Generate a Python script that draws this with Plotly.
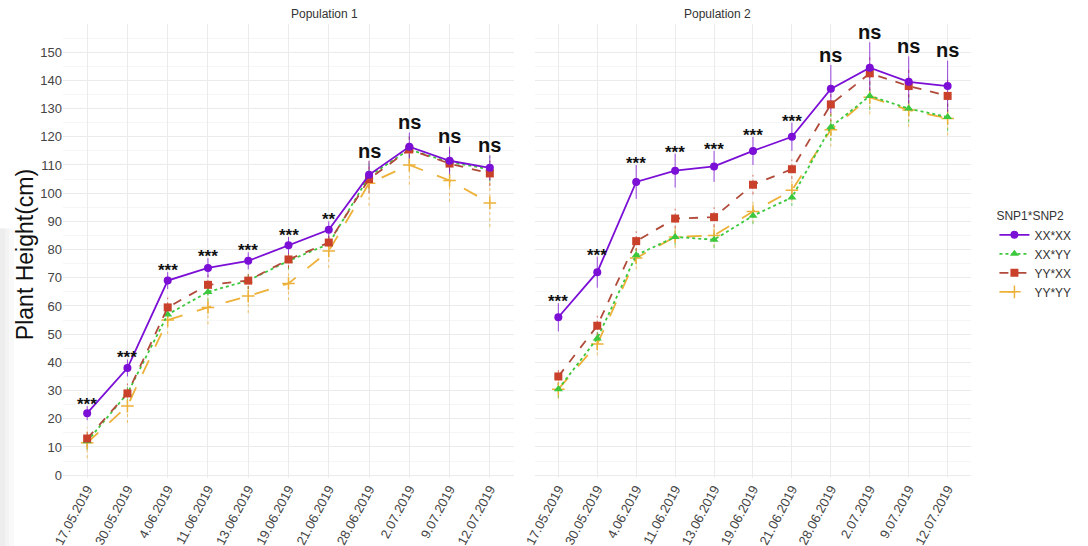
import plotly.graph_objects as go

# Sampling dates (categorical x axis)
dates = ["17.05.2019", "30.05.2019", "4.06.2019", "11.06.2019", "13.06.2019",
         "19.06.2019", "21.06.2019", "28.06.2019", "2.07.2019", "9.07.2019", "12.07.2019"]

genotypes = ["XX*XX", "XX*YY", "YY*XX", "YY*YY"]

# Population 1: mean plant height (cm) and error
pop1_xxxx = [22, 38, 69, 73.5, 76, 81.5, 87, 106.5, 116.5, 111.5, 109]
pop1_xxyy = [12, 29, 57, 65, 69, 76, 82, 106, 115.5, 111, 108.5]
pop1_yyxx = [13, 29, 59.5, 67.5, 69, 76.5, 82.5, 105, 115.5, 110.5, 107]
pop1_yyyy = [11.5, 24.5, 55, 59.5, 63.5, 68, 79.5, 103.5, 110, 104.5, 96.5]

pop1_xxxx_err = [2.5, 3, 3, 3.5, 3, 3, 3, 5, 5, 5, 4.5]
pop1_xxyy_err = [3, 3, 3, 3.5, 3, 3, 3, 5, 5, 5, 4.5]
pop1_yyxx_err = [3, 3.5, 3.5, 3.5, 3, 3, 3, 5, 5, 5, 4.5]
pop1_yyyy_err = [5.5, 6, 5, 6, 6, 6, 6, 8, 7, 7.5, 8.5]

# Population 2: mean plant height (cm) and error
pop2_xxxx = [56, 72, 104, 108, 109.5, 115, 120, 137, 144.5, 139.5, 138]
pop2_xxyy = [30.5, 48.5, 78, 84.5, 83.5, 92, 98.5, 123.5, 134.5, 130, 127]
pop2_yyxx = [35, 53, 83, 91, 91.5, 103, 108.5, 131.5, 142.5, 138, 134.5]
pop2_yyyy = [30.5, 46.5, 77, 84.5, 85, 93.5, 101, 122.5, 134, 129.5, 126.5]

pop2_xxxx_err = [5, 5.5, 6, 6, 5.5, 5, 5, 8.5, 9, 9, 9]
pop2_xxyy_err = [3, 3, 3, 3, 3, 3, 3, 5, 5, 5, 5]
pop2_yyxx_err = [3, 3.5, 3.5, 3.5, 3.5, 3.5, 3.5, 6, 6, 6, 6]
pop2_yyyy_err = [3.5, 4, 4, 4, 4, 4, 4, 6, 6, 6, 6]

# Significance of genotype differences at each date
pop1_sig = ["***", "***", "***", "***", "***", "***", "**", "ns", "ns", "ns", "ns"]
pop2_sig = ["***", "***", "***", "***", "***", "***", "***", "ns", "ns", "ns", "ns"]

colors = {"XX*XX": "#7B0FD6", "XX*YY": "#3CC83C", "YY*XX": "#C9412B", "YY*YY": "#EDB13A"}
line_colors = {"XX*XX": "#7B0FD6", "XX*YY": "#3CC83C", "YY*XX": "#B04A3A", "YY*YY": "#EDB13A"}
dashes = {"XX*XX": "solid", "XX*YY": "dot", "YY*XX": "dash", "YY*YY": "longdash"}
symbols = {"XX*XX": "circle", "XX*YY": "triangle-up", "YY*XX": "square", "YY*YY": "cross-thin-open"}
err_dash = {"XX*XX": "solid", "XX*YY": "dot", "YY*XX": "dot", "YY*YY": "dot"}

populations = [
    ("x", "y", {"XX*XX": (pop1_xxxx, pop1_xxxx_err), "XX*YY": (pop1_xxyy, pop1_xxyy_err),
                "YY*XX": (pop1_yyxx, pop1_yyxx_err), "YY*YY": (pop1_yyyy, pop1_yyyy_err)}, pop1_sig),
    ("x2", "y2", {"XX*XX": (pop2_xxxx, pop2_xxxx_err), "XX*YY": (pop2_xxyy, pop2_xxyy_err),
                  "YY*XX": (pop2_yyxx, pop2_yyxx_err), "YY*YY": (pop2_yyyy, pop2_yyyy_err)}, pop2_sig),
]

FONT = "Arial, Liberation Sans, sans-serif"

fig = go.Figure()
annotations = []

draw_order = ["YY*YY", "XX*YY", "YY*XX", "XX*XX"]
for pi, (xa, ya, series, sig) in enumerate(populations):
    # error bars as vertical segments
    for g in draw_order:
        vals, errs = series[g]
        ex, ey = [], []
        for d, v, e in zip(dates, vals, errs):
            ex += [d, d, None]
            ey += [v - e, v + e, None]
        fig.add_trace(go.Scatter(
            x=ex, y=ey, xaxis=xa, yaxis=ya, mode="lines",
            line=dict(color=colors[g], width=1, dash=err_dash[g]),
            opacity=0.75, showlegend=False, hoverinfo="skip"))
    for g in draw_order:
        vals, errs = series[g]
        sym = symbols[g]
        marker = dict(symbol=sym, size=8 if sym != "cross-thin-open" else 9, color=colors[g])
        if sym == "cross-thin-open":
            marker["line"] = dict(color=colors[g], width=1.5)
        fig.add_trace(go.Scatter(
            x=dates, y=vals, xaxis=xa, yaxis=ya, mode="lines+markers",
            name=g, legendrank=genotypes.index(g) + 1,
            line=dict(color=line_colors[g], width=1.8, dash=dashes[g]),
            marker=marker, showlegend=(pi == 0)))
    # significance labels above the tallest error bar at each date
    for i, (d, s) in enumerate(zip(dates, sig)):
        top = max(series[g][0][i] + series[g][1][i] for g in genotypes)
        if s == "ns":
            annotations.append(dict(x=d, y=top - 1, xref=xa, yref=ya, text="<b>ns</b>", showarrow=False,
                                    yanchor="bottom", font=dict(size=20, color="#111", family=FONT)))
        else:
            annotations.append(dict(x=d, y=top - 3.5, xref=xa, yref=ya, text="<b>%s</b>" % s,
                                    showarrow=False, yanchor="bottom",
                                    font=dict(size=17, color="#111", family=FONT)))

# facet strip titles
annotations.append(dict(x=0.2484, y=1.0, xref="paper", yref="paper", text="Population 1",
                        showarrow=False, yanchor="bottom", yshift=1,
                        font=dict(size=12, color="#333", family=FONT)))
annotations.append(dict(x=0.7599, y=1.0, xref="paper", yref="paper", text="Population 2",
                        showarrow=False, yanchor="bottom", yshift=1,
                        font=dict(size=12, color="#333", family=FONT)))
# y axis title
annotations.append(dict(x=-0.0418, y=0.491, xref="paper", yref="paper", text="Plant Height(cm)",
                        showarrow=False, textangle=-90, xanchor="center", yanchor="middle",
                        font=dict(size=23, color="#111", family=FONT)))

xaxis_common = dict(type="category", categoryorder="array", categoryarray=dates,
                    range=[-0.6, 10.6], tickangle=-62, showgrid=True, gridcolor="#EBEBEB",
                    gridwidth=1, zeroline=False, showline=False, ticks="",
                    tickfont=dict(size=13, color="#444", family=FONT))
yaxis_common = dict(range=[-1, 160], tickvals=list(range(0, 151, 10)), showgrid=True,
                    gridcolor="#EBEBEB", gridwidth=1, zeroline=False, showline=False, ticks="",
                    minor=dict(dtick=5, tick0=0, showgrid=True, gridcolor="#F6F6F6", gridwidth=1),
                    tickfont=dict(size=13, color="#444", family=FONT))

# faint shading along the left edge
shapes = []
for w, op in [(14, 0.05), (9, 0.05), (5, 0.05)]:
    shapes.append(dict(type="rect", xref="paper", yref="paper",
                       x0=-63 / 908, x1=(w - 63) / 908, y0=-0.16, y1=0.55,
                       fillcolor="#808080", opacity=op, line=dict(width=0), layer="below"))

fig.update_layout(
    width=1088, height=546,
    margin=dict(l=63, r=117, t=24, b=68, autoexpand=False),
    paper_bgcolor="white", plot_bgcolor="white",
    font=dict(family=FONT),
    xaxis=dict(domain=[0, 0.4967], **xaxis_common),
    xaxis2=dict(domain=[0.5198, 1], **xaxis_common),
    yaxis=dict(anchor="x", **yaxis_common),
    yaxis2=dict(anchor="x2", showticklabels=False, **{k: v for k, v in yaxis_common.items() if k != "tickfont"}),
    legend=dict(xref="container", yref="container", x=0.914, y=0.625, xanchor="left", yanchor="top",
                title=dict(text="SNP1*SNP2", font=dict(size=12, color="#333", family=FONT)),
                font=dict(size=12, color="#333", family=FONT), tracegroupgap=0,
                itemwidth=30, bgcolor="rgba(0,0,0,0)"),
    annotations=annotations,
    shapes=shapes,
    showlegend=True,
)

fig.write_html("out.html")
